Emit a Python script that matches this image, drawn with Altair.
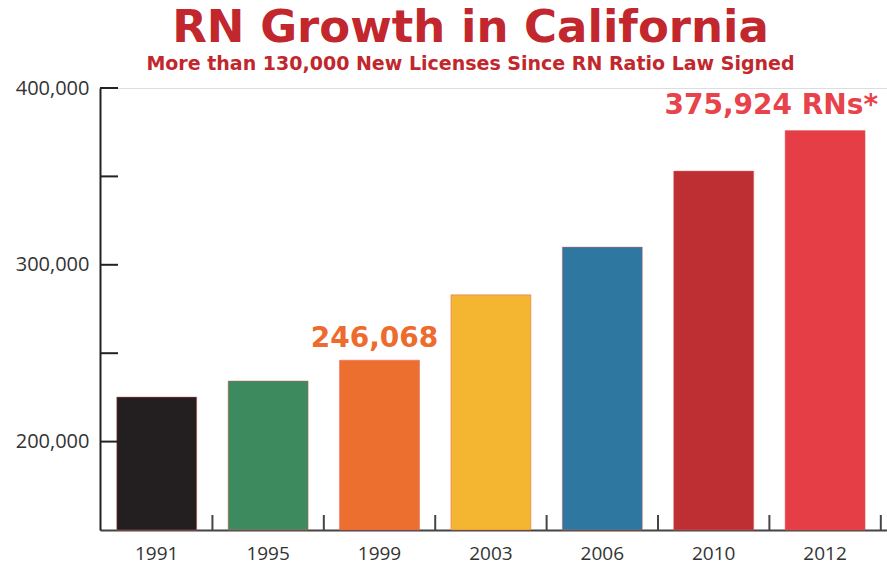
import altair as alt
import pandas as pd

# ---- data ----
years = ["1991", "1995", "1999", "2003", "2006", "2010", "2012"]
rns = [225200, 234300, 246068, 283000, 310000, 353000, 375924]
bar_colors = ["#231f20", "#3d8a5f", "#ec6f2f", "#f4b531", "#2e77a0", "#bd2f33", "#e63e46"]

y_ticks = [200000, 250000, 300000, 350000, 400000]
y_labels = [200000, 300000, 400000]

note_years = ["1999", "2012"]
note_values = [246068, 375924]
note_texts = ["246,068", "375,924 RNs*"]
note_colors = ["#ec6b2d", "#e8424a"]

title_text = "RN Growth in California"
subtitle_text = "More than 130,000 New Licenses Since RN Ratio Law Signed"

df = pd.DataFrame({"year": years, "rns": rns, "color": bar_colors})
ytick_df = pd.DataFrame({"v": y_ticks})
note_df = pd.DataFrame({"year": note_years, "rns": note_values,
                        "label": note_texts, "color": note_colors})

FONT = "Open Sans"
HFONT = "DejaVu Sans"

xscale = alt.Scale(domain=years, paddingInner=0.282, paddingOuter=0.1735, align=0.433)
yscale = alt.Scale(domain=[150000, 400000], zero=False, nice=False)

x_enc = alt.X("year:N", sort=years, scale=xscale,
              axis=alt.Axis(title=None, labelAngle=0, ticks=False, domain=True,
                            domainColor="#444", domainWidth=2, labelFontSize=19,
                            labelFont=FONT, labelColor="#333", labelPadding=14,
                            grid=False))
y_enc = alt.Y("rns:Q", scale=yscale,
              axis=alt.Axis(title=None, values=y_labels, format=",d", ticks=False,
                            domain=True, domainColor="#222", domainWidth=2,
                            labelFontSize=20, labelFont=FONT, labelColor="#333",
                            labelPadding=11, grid=False))

bars = alt.Chart(df).mark_bar(stroke="#e06060", strokeWidth=0.8, strokeOpacity=0.6).encode(
    x=x_enc,
    y=y_enc,
    y2=alt.datum(150000),
    color=alt.Color("color:N", scale=None),
)

ytick_rules = alt.Chart(ytick_df).mark_rule(color="#222", strokeWidth=2).encode(
    y=alt.Y("v:Q", scale=yscale),
    x=alt.value(0),
    x2=alt.value(18),
)

xtick_rules = alt.Chart(df).mark_rule(color="#444", strokeWidth=2, xOffset=55.7).encode(
    x=alt.X("year:N", sort=years, scale=xscale),
    y=alt.datum(150000),
    y2=alt.datum(158500),
)

note1 = alt.Chart(note_df).transform_filter(alt.datum.year == "1999").mark_text(
    align="center", baseline="alphabetic", dx=-5, dy=-13, fontSize=28, fontWeight="bold", font=HFONT
).encode(
    x=alt.X("year:N", sort=years, scale=xscale),
    y=alt.Y("rns:Q", scale=yscale),
    text="label:N",
    color=alt.Color("color:N", scale=None),
)

note2 = alt.Chart(note_df).transform_filter(alt.datum.year == "2012").mark_text(
    align="right", baseline="alphabetic", dx=53, dy=-17, fontSize=28, fontWeight="bold", font=HFONT
).encode(
    x=alt.X("year:N", sort=years, scale=xscale),
    y=alt.Y("rns:Q", scale=yscale),
    text="label:N",
    color=alt.Color("color:N", scale=None),
)

chart = alt.layer(bars, ytick_rules, xtick_rules, note1, note2).properties(
    width=787,
    height=442,
    autosize="none",
    padding={"left": 100, "top": 88, "right": 0, "bottom": 37},
    title=alt.TitleParams(
        text=title_text,
        subtitle=subtitle_text,
        anchor="middle",
        dx=-23,
        offset=4,
        font=HFONT,
        fontSize=45,
        fontWeight="bold",
        color="#c1272d",
        subtitleFont=HFONT,
        subtitleFontSize=19,
        subtitleFontWeight="bold",
        subtitleColor="#c1272d",
        subtitlePadding=4,
    ),
).configure_view(stroke=None).configure(background="white")

chart.save("out.html", embed_options={"renderer": "svg", "actions": False})
